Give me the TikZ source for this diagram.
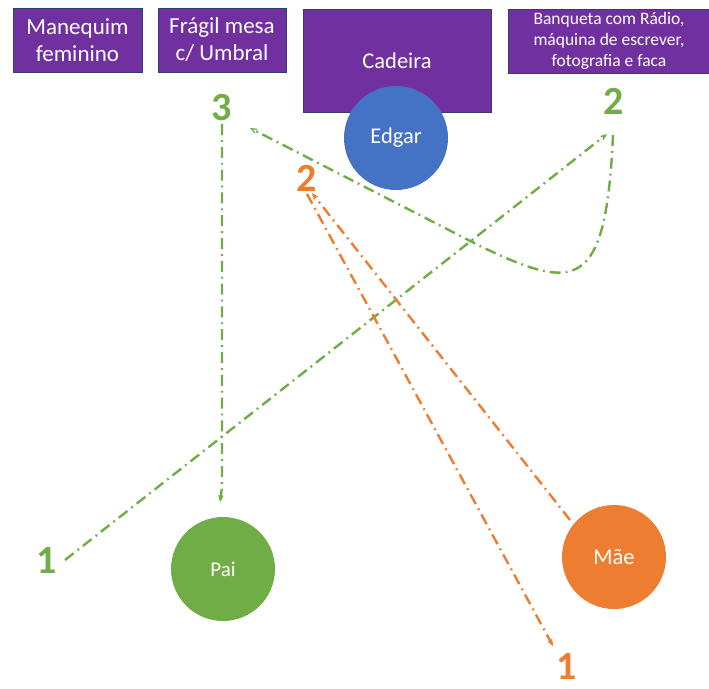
\documentclass[tikz,border=0pt]{standalone}
\usepackage{fontspec}
\setmainfont{Carlito}
\usetikzlibrary{arrows.meta}
\definecolor{purp}{HTML}{7030A0}
\definecolor{bord}{HTML}{2F3F6F}
\definecolor{gre}{HTML}{70AD47}
\definecolor{ora}{HTML}{ED7D31}
\definecolor{blu}{HTML}{4472C4}
\tikzset{
  box/.style={draw=bord, line width=0.8pt, fill=purp, text=white, align=center, inner sep=0pt},
  person/.style={circle, inner sep=0pt, minimum size=104pt, text=white, font=\fontsize{22.5}{26}\selectfont},
  num/.style={inner sep=0pt, font=\fontsize{40}{40}\selectfont\bfseries},
  route/.style={line width=2.4pt, dash pattern=on 11pt off 5pt on 1.8pt off 5pt, -{Straight Barb[length=5pt,width=4pt,line width=1.2pt]}}
}
\begin{document}
\begin{tikzpicture}[x=1pt,y=-1pt]
\useasboundingbox (0,0) rectangle (709,688);
% boxes
\node[box, minimum width=129pt, minimum height=64pt, font=\fontsize{23}{27}\selectfont] (maneq) at (77.5,40) {Manequim\\feminino};
\node[box, minimum width=128pt, minimum height=64pt, font=\fontsize{23}{27}\selectfont] (mesa) at (222,40) {Frágil mesa\\c/ Umbral};
\node[box, minimum width=188pt, minimum height=103pt, font=\fontsize{22.5}{26}\selectfont] (cadeira) at (397,60.5) {Cadeira};
\node[box, minimum width=202pt, minimum height=64pt, font=\fontsize{17.5}{21}\selectfont] (banq) at (609,41) {Banqueta com Rádio,\\máquina de escrever,\\fotografia e faca};
% people
\node[person, fill=blu] (edgar) at (396,138) {Edgar};
\node[person, fill=gre, font=\fontsize{21}{24}\selectfont] (pai) at (223,569) {Pai};
\node[person, fill=ora] (mae) at (614,557) {Mãe};
% numbers
\node[num, text=gre] (g3) at (222,108) {3};
\node[num, text=gre] (g2) at (614,101) {2};
\node[num, text=gre] (g1) at (47,561) {1};
\node[num, text=ora] (o2) at (307,178) {2};
\node[num, text=ora] (o1) at (567,667) {1};
% connector ends
\coordinate (g1s) at (65,560);
\coordinate (g2e) at (607,134);
\coordinate (g2s) at (613,135);
\coordinate (g3e) at (250,128);
\coordinate (g3s) at (222,124);
\coordinate (paie) at (220,502);
\coordinate (maes) at (570,520);
\coordinate (o2e) at (312,193);
\coordinate (o2s) at (307,194);
\coordinate (o1e) at (553,646);
% green route
\draw[route, gre] (g1s) -- (g2e);
\draw[route, gre] (g2s) .. controls (606,292) and (576,292) .. (480,246) -- (g3e);
\draw[route, gre] (g3s) -- (222,470) .. controls (222,488) .. (paie);
% orange route
\draw[route, ora] (maes) -- (o2e);
\draw[route, ora] (o2s) -- (o1e);
\end{tikzpicture}
\end{document}
